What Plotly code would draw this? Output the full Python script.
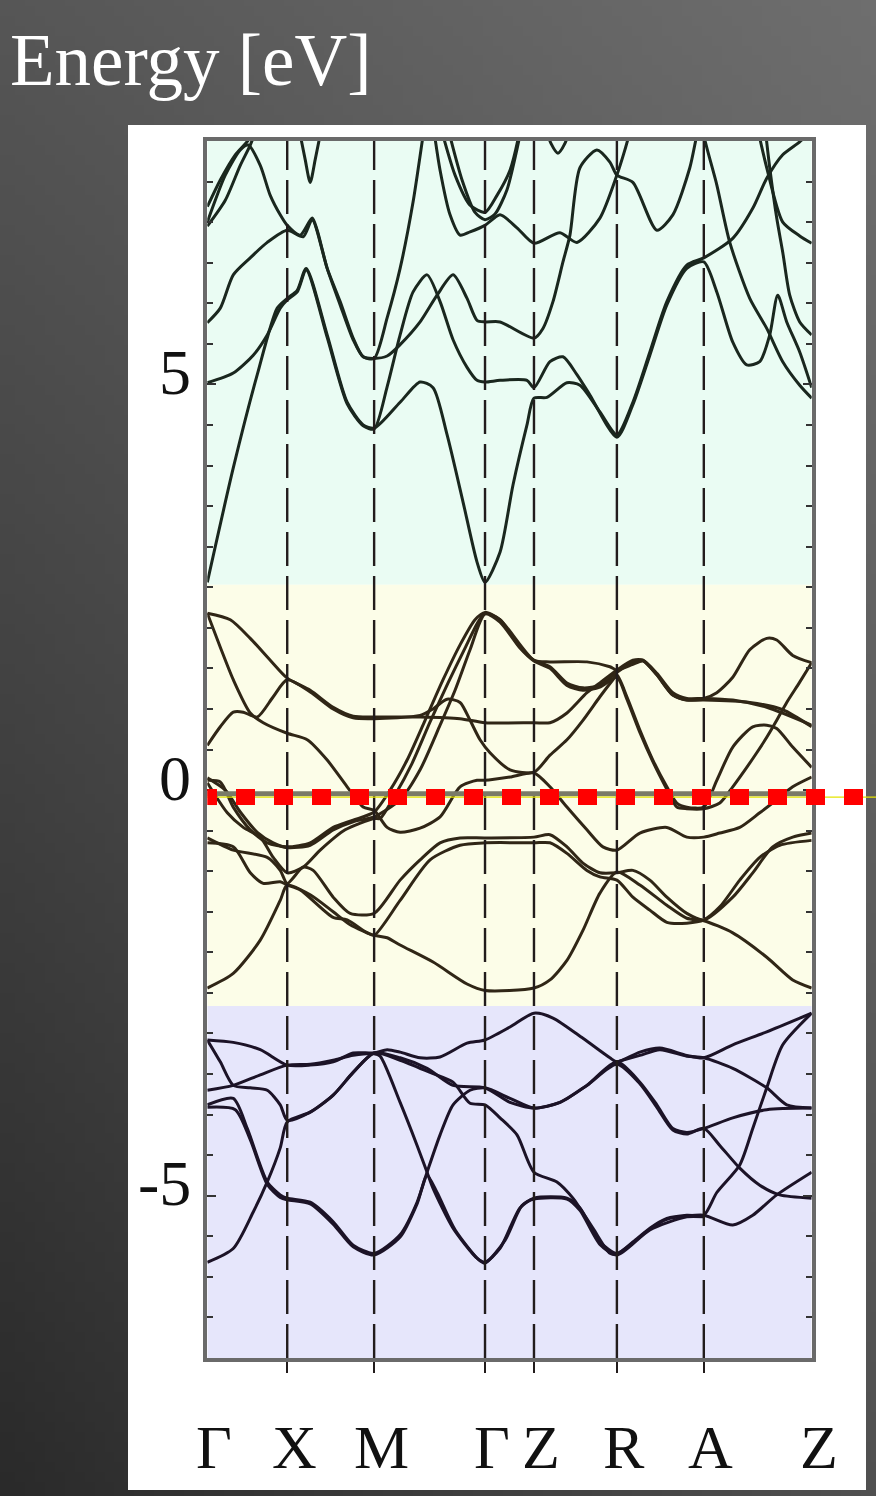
import base64
import struct
import zlib
import plotly.graph_objects as go

# ---------------- data ----------------
K_LABELS = ["Γ", "X", "M", "Γ", "Z", "R", "A", "Z"]
K_POS = [0.0, 0.80, 1.67, 2.78, 3.27, 4.10, 4.97, 6.05]
E_RANGE = [-7.0, 8.0]
E_TICK_VALUES = [-5, 0, 5]
E_TICK_TEXT = ["-5", "0", "5"]
CONDUCTION_RANGE = [2.53, 8.0]
UPPER_VALENCE_RANGE = [-2.66, 2.53]
LOWER_VALENCE_RANGE = [-7.0, -2.66]
ZERO_LINE_E = -0.045
FERMI_MARK_E = -0.086

# conduction bands (k, E)
C_1 = [(0, 2.56), (0.26, 3.97), (0.50, 5.12), (0.70, 5.94), (0.80, 6.06), (0.90, 6.16), (0.99, 6.43),
       (1.20, 5.61), (1.40, 4.78), (1.56, 4.50), (1.67, 4.46), (1.93, 4.78), (2.13, 5.03), (2.26, 4.96),
       (2.40, 4.38), (2.56, 3.55), (2.70, 2.81), (2.78, 2.56), (2.93, 2.93), (3.06, 3.76), (3.20, 4.50),
       (3.27, 4.83), (3.40, 4.84), (3.60, 5.02), (3.73, 4.99), (3.93, 4.66), (4.10, 4.38), (4.26, 4.78),
       (4.43, 5.40), (4.60, 6.02), (4.80, 6.47), (4.97, 6.56), (5.26, 6.80), (5.46, 7.17), (5.60, 7.54),
       (5.76, 7.83), (5.93, 7.99), (6.03, 8.11)]
C_2 = [(0, 5.02), (0.26, 5.14), (0.46, 5.36), (0.60, 5.61), (0.73, 5.94), (0.80, 6.04), (0.90, 6.14),
       (0.99, 6.41), (1.20, 5.58), (1.40, 4.76), (1.56, 4.49), (1.67, 4.45), (1.80, 4.97), (1.93, 5.61),
       (2.06, 6.14), (2.20, 6.35), (2.33, 6.02), (2.46, 5.55), (2.60, 5.21), (2.70, 5.05), (2.78, 5.03),
       (2.93, 5.05), (3.20, 5.05), (3.27, 4.96), (3.43, 5.28), (3.56, 5.34), (3.70, 5.12), (3.83, 4.87),
       (4.10, 4.35), (4.26, 4.75), (4.43, 5.36), (4.60, 5.98), (4.80, 6.43), (4.97, 6.51), (5.10, 6.14),
       (5.26, 5.52), (5.40, 5.24), (5.53, 5.28), (5.63, 5.61), (5.71, 6.10), (5.80, 5.77), (5.93, 5.40),
       (6.05, 4.96)]
C_3 = [(0, 5.76), (0.13, 5.94), (0.26, 6.35), (0.43, 6.56), (0.60, 6.75), (0.80, 6.90), (0.96, 6.82),
       (1.05, 7.03), (1.20, 6.43), (1.33, 6.02), (1.46, 5.57), (1.56, 5.34), (1.67, 5.32), (1.80, 5.35),
       (1.93, 5.49), (2.13, 5.77), (2.30, 6.10), (2.46, 6.35), (2.60, 6.06), (2.70, 5.79), (2.78, 5.77),
       (2.93, 5.77), (3.27, 5.57), (3.36, 5.69), (3.46, 6.02), (3.56, 6.51), (3.63, 6.84), (3.73, 7.67),
       (3.90, 7.89), (4.03, 7.74), (4.10, 7.58), (4.26, 7.49), (4.50, 6.90), (4.66, 7.09), (4.83, 7.67),
       (4.90, 8.07), (4.95, 8.30)]
C_4 = [(0, 7.00), (0.18, 7.58), (0.33, 7.89), (0.41, 7.95), (0.53, 7.70), (0.63, 7.33), (0.73, 7.09),
       (0.80, 6.96), (0.93, 6.84), (1.05, 7.05), (1.10, 6.90), (1.20, 6.43), (1.33, 5.98), (1.46, 5.55),
       (1.56, 5.34), (1.67, 5.32), (1.80, 5.82), (1.93, 6.43), (2.06, 7.25), (2.16, 8.07), (2.20, 8.40)]
C_5 = [(0, 7.19), (0.13, 7.52), (0.28, 7.83), (0.41, 8.01), (0.48, 8.20)]
C_6 = [(0, 6.95), (0.18, 7.27), (0.33, 7.70), (0.43, 7.95), (0.51, 8.20)]
C_7 = [(0.91, 8.20), (0.98, 7.77), (1.03, 7.49), (1.08, 7.77), (1.15, 8.20)]
C_8 = [(2.26, 8.20), (2.33, 7.64), (2.43, 7.09), (2.53, 6.84), (2.63, 6.88), (2.78, 6.96), (2.93, 7.09),
       (3.10, 6.93), (3.27, 6.74), (3.53, 6.87), (3.70, 6.75), (3.93, 7.05), (4.10, 7.58), (4.18, 7.89),
       (4.25, 8.20)]
C_9 = [(2.33, 8.20), (2.48, 7.58), (2.63, 7.21), (2.78, 7.12), (2.90, 7.33), (3.03, 7.64), (3.13, 8.14),
       (3.15, 8.30)]
C_10 = [(2.40, 8.20), (2.55, 7.52), (2.68, 7.12), (2.78, 7.03), (2.88, 7.10), (3.00, 7.40), (3.10, 7.90),
        (3.15, 8.20)]
C_11 = [(3.38, 8.20), (3.44, 7.97), (3.51, 7.85), (3.58, 7.97), (3.64, 8.20)]
C_12 = [(4.95, 8.30), (4.97, 8.07), (5.10, 7.46), (5.23, 6.75), (5.43, 6.06), (5.60, 5.69), (5.76, 5.28),
        (5.93, 4.99), (6.05, 4.83)]
C_13 = [(5.50, 8.20), (5.60, 7.67), (5.76, 7.00), (5.93, 6.83), (6.05, 6.74)]
C_14 = [(5.58, 8.20), (5.63, 7.67), (5.70, 7.05), (5.76, 6.63), (5.83, 6.10), (5.93, 5.77), (6.05, 5.61)]

# upper valence bands
Y_1 = [(0, 2.18), (0.23, 2.10), (0.43, 1.87), (0.63, 1.60), (0.80, 1.38), (1.03, 1.23), (1.26, 1.02),
       (1.46, 0.91), (1.67, 0.90), (2.13, 0.90), (2.53, 0.88), (2.78, 0.83), (3.27, 0.83), (3.43, 0.83),
       (3.60, 0.95), (3.80, 1.20), (3.93, 1.32), (4.10, 1.48), (4.26, 1.60), (4.36, 1.60), (4.50, 1.44),
       (4.66, 1.20), (4.80, 1.13), (4.97, 1.13), (5.26, 1.11), (5.60, 1.02), (6.05, 0.80)]
Y_2 = [(0, 2.18), (0.13, 1.76), (0.26, 1.36), (0.43, 0.95), (0.56, 0.83), (0.80, 0.70), (1.00, 0.62),
       (1.20, 0.37), (1.40, 0.04), (1.56, -0.21), (1.67, -0.25), (1.80, -0.46), (1.93, -0.52), (2.13, -0.47),
       (2.33, -0.33), (2.53, 0.04), (2.70, 0.12), (2.78, 0.12), (3.03, 0.16), (3.27, 0.21), (3.43, 0.04),
       (3.60, -0.21), (3.80, -0.49), (3.96, -0.70), (4.10, -0.74), (4.33, -0.53), (4.60, -0.46),
       (4.80, -0.58), (4.97, -0.58), (5.13, -0.53), (5.33, -0.46), (5.53, -0.28), (5.70, -0.12),
       (5.86, 0.04), (6.05, 0.16)]
Y_3 = [(0, 0.55), (0.13, 0.78), (0.26, 0.96), (0.36, 0.96), (0.50, 0.90), (0.66, 1.15), (0.80, 1.36),
       (1.03, 1.21), (1.26, 1.00), (1.46, 0.89), (1.67, 0.88), (2.13, 0.92), (2.26, 1.00), (2.40, 1.12),
       (2.53, 1.08), (2.63, 0.86), (2.73, 0.62), (2.83, 0.46), (3.03, 0.25), (3.27, 0.22), (3.43, 0.43),
       (3.60, 0.62), (3.76, 0.86), (3.93, 1.15), (4.06, 1.36), (4.10, 1.42), (4.20, 1.15), (4.33, 0.74),
       (4.46, 0.37), (4.60, 0.04), (4.70, -0.16), (4.80, -0.21), (4.97, -0.21), (5.10, 0.12), (5.26, 0.53),
       (5.46, 0.78), (5.60, 0.80), (5.70, 0.76), (5.86, 0.53), (6.05, 0.28)]
Y_4 = [(0, 0.12), (0.13, 0.10), (0.26, -0.21), (0.43, -0.49), (0.60, -0.65), (0.80, -0.70), (1.03, -0.65),
       (1.26, -0.46), (1.46, -0.37), (1.67, -0.27), (1.83, 0.0), (2.00, 0.37), (2.18, 0.86), (2.36, 1.36),
       (2.53, 1.79), (2.68, 2.10), (2.78, 2.19), (2.93, 2.10), (3.13, 1.76), (3.27, 1.60), (3.43, 1.52),
       (3.60, 1.32), (3.76, 1.26), (3.93, 1.29), (4.10, 1.45), (4.26, 1.58), (4.36, 1.60), (4.50, 1.42),
       (4.66, 1.17), (4.80, 1.11), (4.97, 1.13), (5.10, 1.20), (5.26, 1.39), (5.43, 1.73), (5.60, 1.87),
       (5.70, 1.85), (5.86, 1.66), (6.05, 1.57)]
Y_5 = [(0, 0.09), (0.20, -0.28), (0.36, -0.46), (0.53, -0.58), (0.66, -0.83), (0.80, -1.02), (0.96, -0.95),
       (1.13, -0.74), (1.38, -0.49), (1.67, -0.35), (1.73, -0.35), (1.88, -0.06), (2.05, 0.33), (2.23, 0.84),
       (2.41, 1.32), (2.58, 1.75), (2.71, 2.07), (2.78, 2.18), (2.93, 2.10), (3.27, 1.60), (3.43, 1.58),
       (3.80, 1.58), (4.03, 1.52), (4.10, 1.48), (4.26, 1.55), (4.36, 1.59), (4.50, 1.42), (4.66, 1.17),
       (4.80, 1.11), (4.97, 1.11), (5.43, 1.08), (5.76, 0.99), (6.05, 0.78)]
Y_6 = [(0, 0.15), (0.18, 0.0), (0.33, -0.27), (0.50, -0.52), (0.66, -0.65), (0.80, -0.71), (1.03, -0.68),
       (1.26, -0.49), (1.46, -0.39), (1.67, -0.33), (1.93, -0.12), (2.13, 0.25), (2.33, 0.80), (2.48, 1.23),
       (2.63, 1.73), (2.78, 2.17), (2.93, 2.07), (3.13, 1.75), (3.27, 1.59), (3.43, 1.50), (3.60, 1.29),
       (3.76, 1.23), (3.93, 1.27), (4.10, 1.39), (4.20, 1.12), (4.33, 0.71), (4.46, 0.35), (4.60, 0.01),
       (4.70, -0.21), (4.80, -0.23), (4.97, -0.23), (5.13, -0.16), (5.26, 0.04), (5.40, 0.28), (5.50, 0.46),
       (5.60, 0.65), (5.70, 0.86), (5.80, 1.08), (5.93, 1.33), (6.05, 1.57)]
Y_7 = [(0, -0.59), (0.26, -0.74), (0.60, -0.83), (0.73, -0.99), (0.80, -1.15), (0.96, -0.95), (1.06, -0.99),
       (1.26, -1.32), (1.43, -1.52), (1.67, -1.52), (1.93, -1.11), (2.13, -0.86), (2.33, -0.65), (2.53, -0.59),
       (2.78, -0.59), (3.27, -0.58), (3.43, -0.55), (3.60, -0.70), (3.76, -0.90), (3.93, -1.02), (4.10, -1.02),
       (4.26, -0.99), (4.43, -1.11), (4.60, -1.32), (4.80, -1.52), (4.97, -1.60), (5.26, -1.32), (5.46, -1.02),
       (5.66, -0.70), (5.86, -0.58), (6.05, -0.53)]
Y_8 = [(0, -0.65), (0.26, -0.70), (0.43, -1.02), (0.56, -1.15), (0.73, -1.13), (0.80, -1.17), (0.93, -1.23),
       (1.26, -1.57), (1.40, -1.60), (1.60, -1.76), (1.67, -1.79), (1.93, -1.36), (2.23, -0.86), (2.53, -0.68),
       (2.78, -0.65), (3.27, -0.65), (3.43, -0.65), (3.60, -0.78), (3.80, -0.99), (3.93, -1.07), (4.10, -1.11),
       (4.26, -1.32), (4.43, -1.48), (4.60, -1.63), (4.80, -1.64), (4.97, -1.60), (5.13, -1.44), (5.33, -1.11),
       (5.53, -0.83), (5.73, -0.68), (6.05, -0.62)]
Y_9 = [(0, -2.44), (0.26, -2.26), (0.53, -1.85), (0.73, -1.36), (0.80, -1.17), (1.03, -1.29), (1.26, -1.50),
       (1.43, -1.66), (1.67, -1.79), (1.80, -1.82), (1.93, -1.91), (2.26, -2.12), (2.60, -2.39), (2.78, -2.47),
       (3.27, -2.44), (3.43, -2.34), (3.60, -2.10), (3.76, -1.73), (3.93, -1.27), (4.10, -1.01), (4.33, -1.17),
       (4.60, -1.42), (4.80, -1.58), (4.97, -1.61), (5.26, -1.76), (5.60, -2.06), (5.86, -2.34), (6.05, -2.44)]

# lower valence bands
V_1 = [(0, -3.08), (0.26, -3.11), (0.53, -3.20), (0.80, -3.39), (1.03, -3.39), (1.26, -3.35), (1.46, -3.24),
       (1.67, -3.24), (1.80, -3.20), (1.93, -3.23), (2.13, -3.30), (2.33, -3.29), (2.60, -3.12), (2.78, -3.08),
       (3.03, -2.92), (3.27, -2.75), (3.46, -2.81), (3.76, -3.06), (4.03, -3.30), (4.10, -3.35), (4.33, -3.23),
       (4.53, -3.18), (4.80, -3.27), (4.97, -3.30), (5.26, -3.14), (5.60, -2.98), (6.05, -2.75)]
V_2 = [(0, -3.08), (0.13, -3.35), (0.26, -3.64), (0.43, -3.67), (0.60, -3.70), (0.73, -3.88), (0.80, -4.07),
       (1.03, -3.97), (1.26, -3.76), (1.46, -3.48), (1.67, -3.24), (1.93, -3.30), (2.20, -3.43), (2.46, -3.64),
       (2.78, -3.67), (3.03, -3.85), (3.27, -3.92), (3.53, -3.85), (3.80, -3.64), (4.10, -3.35), (4.33, -3.60),
       (4.50, -3.88), (4.66, -4.17), (4.80, -4.22), (4.97, -4.17), (5.26, -4.04), (5.60, -3.94), (6.05, -3.92)]
V_3 = [(0, -3.70), (0.26, -3.64), (0.53, -3.51), (0.80, -3.39), (1.03, -3.38), (1.26, -3.33), (1.46, -3.27),
       (1.67, -3.25), (1.73, -3.28), (1.93, -3.85), (2.10, -4.38), (2.20, -4.71), (2.26, -4.91), (2.46, -5.40),
       (2.70, -5.77), (2.78, -5.82), (2.93, -5.65), (3.13, -5.15), (3.27, -5.03), (3.60, -5.03), (3.73, -5.15),
       (3.93, -5.57), (4.10, -5.71), (4.26, -5.57), (4.43, -5.40), (4.60, -5.28), (4.80, -5.24), (4.97, -5.24),
       (5.10, -4.96), (5.33, -4.62), (5.46, -4.17), (5.60, -3.67), (5.76, -3.14), (6.05, -2.75)]
V_4 = [(0, -3.88), (0.26, -3.80), (0.40, -4.17), (0.60, -4.83), (0.73, -4.99), (0.80, -5.03), (1.03, -5.08),
       (1.26, -5.32), (1.46, -5.61), (1.67, -5.71), (1.93, -5.48), (2.10, -5.08), (2.20, -4.71), (2.33, -4.25),
       (2.46, -3.88), (2.63, -3.70), (2.78, -3.67), (3.03, -3.80), (3.27, -3.92), (3.53, -3.85), (3.80, -3.64),
       (4.10, -3.38), (4.33, -3.62), (4.50, -3.91), (4.66, -4.19), (4.80, -4.24), (4.97, -4.17), (5.13, -4.38),
       (5.33, -4.66), (5.53, -4.87), (5.73, -4.99), (6.05, -5.03)]
V_5 = [(0, -5.82), (0.26, -5.65), (0.46, -5.20), (0.60, -4.83), (0.73, -4.41), (0.80, -4.09), (1.03, -3.97),
       (1.26, -3.76), (1.46, -3.48), (1.67, -3.24), (1.93, -3.33), (2.23, -3.48), (2.46, -3.60), (2.63, -3.86),
       (2.78, -3.88), (2.93, -4.04), (3.10, -4.25), (3.27, -4.71), (3.50, -4.83), (3.66, -5.03), (3.86, -5.40),
       (4.03, -5.71), (4.10, -5.72), (4.26, -5.58), (4.43, -5.41), (4.60, -5.29), (4.80, -5.25), (4.97, -5.24),
       (5.26, -5.36), (5.46, -5.24), (5.70, -4.99), (6.05, -4.71)]
V_6 = [(0, -3.91), (0.28, -3.94), (0.43, -4.31), (0.60, -4.86), (0.73, -5.02), (0.80, -5.05), (1.03, -5.10),
       (1.26, -5.35), (1.46, -5.63), (1.67, -5.73), (1.93, -5.51), (2.10, -5.10), (2.20, -4.75), (2.30, -4.96),
       (2.48, -5.42), (2.71, -5.78), (2.78, -5.83), (2.98, -5.55), (3.15, -5.12), (3.27, -5.04), (3.60, -5.04),
       (3.73, -5.18), (3.93, -5.60), (4.10, -5.73), (4.43, -5.42), (4.80, -5.26), (4.97, -5.26)]
V_7 = [(4.10, -3.35), (4.33, -3.27), (4.53, -3.20), (4.80, -3.28), (4.97, -3.30), (5.26, -3.43), (5.60, -3.67),
       (5.80, -3.88), (6.05, -3.92)]

CONDUCTION_BANDS = [C_1, C_2, C_3, C_4, C_5, C_6, C_7, C_8, C_9, C_10, C_11, C_12, C_13, C_14]
UPPER_VALENCE_BANDS = [Y_1, Y_2, Y_3, Y_4, Y_5, Y_6, Y_7, Y_8, Y_9]
LOWER_VALENCE_BANDS = [V_1, V_2, V_3, V_4, V_5, V_6, V_7]

# ---------------- layout geometry (pixels of the 876 x 1496 canvas) ----------------
W, H = 876, 1496
PLOT_L, PLOT_R, PLOT_T, PLOT_B = 207.3, 811.7, 141, 1358


def px(xp):
    return xp / W


def py(yp):
    return 1 - yp / H


def gradient_png(w, h):
    rows = []
    for j in range(h):
        v = j / (h - 1)
        row = bytearray([0])
        for i in range(w):
            u = i / (w - 1)
            g = 86 + 24 * u - 44 * v + 14 * u * v
            row.append(max(0, min(255, int(round(g)))))
        rows.append(bytes(row))
    raw = b"".join(rows)

    def chunk(tag, data):
        c = struct.pack(">I", len(data)) + tag + data
        return c + struct.pack(">I", zlib.crc32(tag + data) & 0xFFFFFFFF)

    png = (b"\x89PNG\r\n\x1a\n"
           + chunk(b"IHDR", struct.pack(">IIBBBBB", w, h, 8, 0, 0, 0, 0))
           + chunk(b"IDAT", zlib.compress(raw, 9))
           + chunk(b"IEND", b""))
    return "data:image/png;base64," + base64.b64encode(png).decode()


fig = go.Figure()

GROUPS = [
    (CONDUCTION_BANDS, "#1a271e"),
    (UPPER_VALENCE_BANDS, "#302616"),
    (LOWER_VALENCE_BANDS, "#1c1327"),
]
for bands, color in GROUPS:
    for band in bands:
        fig.add_trace(go.Scatter(
            x=[p[0] for p in band], y=[p[1] for p in band],
            mode="lines", line=dict(color=color, width=3.0, shape="spline", smoothing=0.7),
            hoverinfo="skip", showlegend=False,
        ))

shapes = []
# white panel
shapes.append(dict(type="rect", xref="paper", yref="paper", x0=px(128), x1=px(866), y0=py(1490), y1=py(125),
                   fillcolor="white", line=dict(width=0), layer="below"))
# coloured energy regions
for (lo, hi), col in [(CONDUCTION_RANGE, "#eafcf3"), (UPPER_VALENCE_RANGE, "#fcfde8"),
                      (LOWER_VALENCE_RANGE, "#e6e6fb")]:
    shapes.append(dict(type="rect", xref="x", yref="y", x0=K_POS[0], x1=K_POS[-1], y0=lo, y1=hi,
                       fillcolor=col, line=dict(width=0), layer="below"))
# dashed high-symmetry lines
for k in K_POS[1:-1]:
    shapes.append(dict(type="line", xref="x", yref="y", x0=k, x1=k, y0=E_RANGE[0], y1=E_RANGE[1],
                       line=dict(color="#221c1c", width=2.4, dash="34px,10px"), layer="above"))
# zero (grey) line
shapes.append(dict(type="line", xref="x", yref="y", x0=K_POS[0], x1=K_POS[-1], y0=ZERO_LINE_E, y1=ZERO_LINE_E,
                   line=dict(color="#7a7a68", width=5), layer="above"))
# thin yellow line
shapes.append(dict(type="line", xref="paper", yref="y", x0=px(PLOT_L), x1=1, y0=FERMI_MARK_E, y1=FERMI_MARK_E,
                   line=dict(color="#e4e400", width=1.3), layer="above"))
# red dotted Fermi marker
shapes.append(dict(type="line", xref="paper", yref="y", x0=px(236), x1=px(866), y0=FERMI_MARK_E, y1=FERMI_MARK_E,
                   line=dict(color="#ff0000", width=16, dash="19px,19px"), layer="above"))
shapes.append(dict(type="rect", xref="paper", yref="y", x0=px(PLOT_L), x1=px(217),
                   y0=FERMI_MARK_E - 8 / 81.13, y1=FERMI_MARK_E + 8 / 81.13,
                   fillcolor="#ff0000", line=dict(width=0), layer="above"))

annotations = []
SERIF = "Liberation Serif, Times New Roman, serif"
annotations.append(dict(text="Energy [eV]", xref="paper", yref="paper", x=px(8), y=py(60),
                        xanchor="left", yanchor="middle", showarrow=False,
                        font=dict(family=SERIF, size=73, color="white")))
for v, t in zip(E_TICK_VALUES, E_TICK_TEXT):
    annotations.append(dict(text=t, xref="paper", yref="y", x=px(193), y=v, yshift=12,
                            xanchor="right", yanchor="middle", showarrow=False,
                            font=dict(family=SERIF, size=64, color="#111111")))
for k, lab in zip(K_POS, K_LABELS):
    annotations.append(dict(text=lab, xref="x", yref="paper", x=k, y=py(1447), xshift=7,
                            xanchor="center", yanchor="middle", showarrow=False,
                            font=dict(family=SERIF, size=62, color="#111111")))

fig.update_layout(
    width=W, height=H, margin=dict(l=0, r=0, t=0, b=0),
    paper_bgcolor="#454545", plot_bgcolor="#eafcf3",
    showlegend=False,
    shapes=shapes, annotations=annotations,
    images=[dict(source=gradient_png(88, 150), xref="paper", yref="paper", x=0, y=1, sizex=1, sizey=1,
                 xanchor="left", yanchor="top", sizing="stretch", layer="below")],
    xaxis=dict(domain=[px(PLOT_L), px(PLOT_R)], range=[K_POS[0], K_POS[-1]],
               tickmode="array", tickvals=K_POS[1:-1], ticks="outside", ticklen=11, tickwidth=2,
               tickcolor="#221c1c", showticklabels=False, showgrid=False, zeroline=False,
               showline=True, linecolor="#6a6a6a", linewidth=3.5, mirror=True),
    yaxis=dict(domain=[py(PLOT_B), py(PLOT_T)], range=E_RANGE,
               tickmode="linear", tick0=0, dtick=5, ticks="inside", ticklen=9, tickwidth=2,
               tickcolor="#333333", showticklabels=False, showgrid=False, zeroline=False,
               showline=True, linecolor="#6a6a6a", linewidth=3.5, mirror="allticks",
               minor=dict(tickmode="linear", tick0=0, dtick=0.5, ticks="inside", ticklen=6,
                          tickwidth=1.5, tickcolor="#333333", showgrid=False)),
)

fig.write_html("out.html")
